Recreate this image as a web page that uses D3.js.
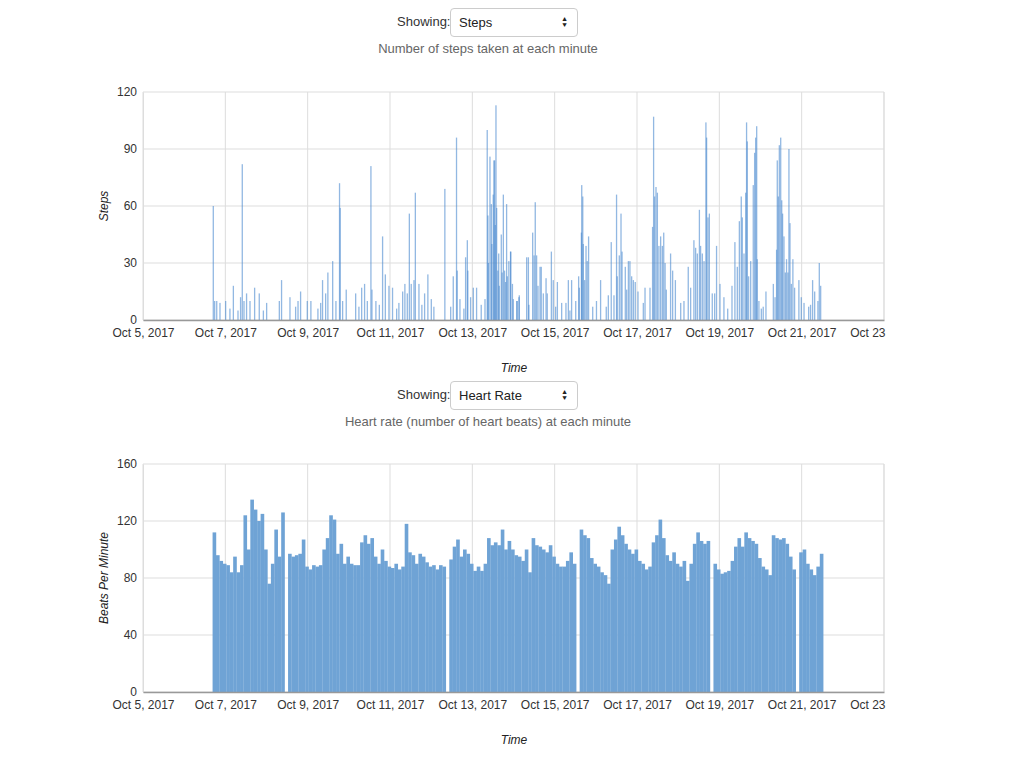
<!DOCTYPE html>
<html><head><meta charset="utf-8">
<script src="https://cdn.jsdelivr.net/npm/d3@7"></script>
<style>
body{margin:0;background:#fff;font-family:"Liberation Sans",Arial,sans-serif;}
.ctl{position:absolute;font-size:13px;color:#333;}
.sel{position:absolute;border:1px solid #ccc;border-radius:4px;font-size:13px;color:#222;box-sizing:border-box;padding:6px 8px;background:#fff}
.sub{position:absolute;font-size:13px;color:#666;text-align:center;width:400px}
svg text{font-family:"Liberation Sans",Arial,sans-serif}
</style></head><body>
<div id="ui"></div>
<svg id="chart" width="1024" height="768" style="position:absolute;left:0;top:0"></svg>
<script>
// ---- data ----
const xTickLabels = ["Oct 5, 2017","Oct 7, 2017","Oct 9, 2017","Oct 11, 2017","Oct 13, 2017","Oct 15, 2017","Oct 17, 2017","Oct 19, 2017","Oct 21, 2017","Oct 23, 2017"];
const stepsTicks = [0,30,60,90,120];
const hrTicks = [0,40,80,120,160];
// steps: hour offset from Oct 5 00:00, steps per minute
const stepHours = [40.6,41.4,42.6,44.5,47.8,50.3,52.3,55,56.5,57.5,58.5,60,62,64.7,67.4,69.8,71.7,79.1,80.4,85.3,88.6,90,91.5,95.4,97.5,101.6,103.2,104.3,106.1,107.4,110.2,112.1,114.2,114.6,116,118.1,123.6,125.5,127.1,128.8,130.4,132.5,133.1,135.4,137.4,139.3,140.9,143,145.1,147.5,148.8,151,152.3,153.7,154.9,156,157.6,158.4,160.5,162.2,163.8,165.7,167.7,169.2,175.6,179,180.5,182.4,182.8,184.4,186.7,187.7,188.7,189,190.6,192.2,194.1,196.8,199,200.3,200.7,201,201.9,202.7,203,203.8,204.2,204.6,205,205.4,205.8,206.5,207,207.3,208.5,209,209.7,210.4,211,211.6,212,212.9,213.9,214,215,215.5,217.5,217.8,218.8,219,223.3,224.3,224.6,226.8,227.6,228.3,229.1,229.9,231.1,231.8,233,234.6,235.3,237.7,238.8,240.2,241.2,243.7,246.2,247.6,248.5,249.5,251.9,253.6,254,255.2,255.4,256,256.3,257.1,257.9,258.6,259.4,261.8,264,266.4,269.7,270.9,272.6,274.2,275.7,276.1,277.3,278.3,278.9,280.8,281.6,282.6,283.5,284.5,285.5,286.6,288.2,291.3,292.3,295.2,296.7,297.3,297.9,298.7,299.5,300.4,301.4,302.4,303.2,304,304.7,307.2,308.4,310,313.1,315,317.5,318.9,320.8,321.8,322.8,324,324.7,325.7,326.7,327.8,328.2,329,329.8,331.5,332.9,334,336,338.3,340.5,343,344.7,346.1,347.3,348.4,349,350,351,351.5,351.9,352.7,353.9,355.4,356.2,356.8,357.4,357.7,358.7,360.1,361.2,362.8,367.1,368.1,369,369.4,370,370.6,371.4,372,372.5,373.3,374.1,374.8,375.6,376.2,376.8,377.6,378.5,379.5,382,383.4,385,387.7,388.8,390,391.2,393.1,393.9,394.7];
const stepValues = [60,10,10,9,10,6,18,5,12,82,10,14,10,17,14,5,9,10,21,12,7,10,15,10,10,6,9,21,14,25,31,10,72,59,10,16,14,7,17,19,10,81,16,10,8,44,24,18,17,6,9,15,19,14,56,19,21,67,19,8,14,24,11,7,69,7,23,96,26,11,6,33,42,26,12,17,17,8,11,100,55,30,86,61,40,66,84,84,50,113,59,26,35,18,45,25,66,26,20,61,23,31,36,36,19,11,10,10,12,13,33,33,8,46,34,62,34,18,28,28,14,22,14,36,21,7,20,9,9,21,5,21,10,23,17,46,71,65,40,21,39,31,44,7,10,21,7,13,41,13,66,23,34,56,36,28,16,31,31,23,21,20,15,9,17,17,49,107,65,70,67,39,44,39,46,30,16,35,26,21,9,10,28,17,42,38,35,58,39,35,31,104,96,54,56,14,14,39,19,12,6,18,41,28,52,65,54,35,67,104,94,23,31,71,88,96,102,32,10,6,7,15,19,12,37,84,65,92,96,63,56,44,25,32,25,90,51,19,32,17,21,12,9,7,8,21,15,10,30,18];
// heart rate: 2-hour bins starting Oct 6 16:34, beats per minute (null = no data)
const hrStart = "2017-10-06T16:34:00";
const hrValues = [112,96,92,90,89,84,95,84,89,124,100,135,128,120,125,100,76,90,114,95,126,null,
97,95,96,97,107,88,86,89,88,89,100,108,124,121,97,104,90,95,90,89,89,105,110,104,108,95,90,100,92,88,87,90,86,88,118,98,96,90,97,95,91,88,89,86,89,88,null,
93,102,107,95,100,97,90,85,88,85,90,108,103,105,103,114,100,106,100,96,95,92,100,84,108,103,102,100,98,103,95,90,88,88,92,98,90,null,
114,110,108,94,90,88,84,82,76,100,107,116,110,104,100,97,100,92,90,86,88,105,110,121,108,96,92,98,90,88,92,78,90,104,112,106,104,106,null,
90,86,83,84,85,92,102,108,102,112,108,106,104,94,88,86,82,110,108,107,108,104,95,86,null,98,100,90,86,82,88,97];

// ---- UI ----
const ui = d3.select("#ui");
function control(top, label, sub){
  ui.append("div").attr("class","ctl").style("left","397px").style("top",(top+6)+"px").text("Showing:");
  const s = ui.append("div").attr("class","sel").style("left","450px").style("top",top+"px").style("width","128px").style("height","29px");
  s.append("span").text(label);
  s.append("span").style("position","absolute").style("right","8px").style("top","5px").style("font-size","9px").style("line-height","8px").html("▲<br>▼").style("transform","scale(0.8,0.75)");
  ui.append("div").attr("class","sub").style("left","288px").style("top",(top+33)+"px").text(sub);
}
control(8,"Steps","Number of steps taken at each minute");
control(381,"Heart Rate","Heart rate (number of heart beats) at each minute");

// ---- charts ----
const svg = d3.select("#chart");
svg.append("defs").append("clipPath").attr("id","clipR").append("rect").attr("x",0).attr("y",0).attr("width",886).attr("height",768);
const t0 = new Date(2017,9,5), t1 = new Date(2017,9,23);
const L=143,R=884;
const x = d3.scaleTime().domain([t0,t1]).range([L,R]);
const tickDates = xTickLabels.map((d,i)=>d3.timeDay.offset(t0,2*i));
const fmt = d3.timeFormat("%b %-d, %Y");

function frame(top,bottom,yMax,yTicks,yLabel){
  const y = d3.scaleLinear().domain([0,yMax]).range([bottom,top]);
  const g = svg.append("g");
  // grid
  g.selectAll(".hg").data(yTicks).join("line").attr("x1",L).attr("x2",R).attr("y1",d=>y(d)).attr("y2",d=>y(d)).attr("stroke","#ddd");
  g.selectAll(".vg").data(tickDates).join("line").attr("x1",d=>x(d)).attr("x2",d=>x(d)).attr("y1",top).attr("y2",bottom).attr("stroke","#ddd");
  g.append("line").attr("x1",R).attr("x2",R).attr("y1",top).attr("y2",bottom).attr("stroke","#ddd");
  const ya = svg.append("g").attr("transform",`translate(${L},0)`).call(d3.axisLeft(y).tickValues(yTicks).tickSize(0).tickPadding(6));
  ya.select(".domain").attr("stroke","#ddd");
  ya.selectAll("text").attr("font-size",12).attr("fill","#333");
  svg.append("text").attr("transform",`translate(108,${(top+bottom)/2}) rotate(-90)`).attr("text-anchor","middle").attr("font-size",12).attr("font-style","italic").attr("fill","#222").text(yLabel);
  svg.append("text").attr("x",514).attr("y",bottom+52).attr("text-anchor","middle").attr("font-size",12).attr("font-style","italic").attr("fill","#222").text("Time");
  return {y,g};
}
function xAxis(bottom){
  const xa = svg.append("g").attr("clip-path","url(#clipR)").append("g").attr("transform",`translate(0,${bottom})`)
    .call(d3.axisBottom(x).tickValues(tickDates).tickFormat((d,i)=>xTickLabels[i]).tickSize(0).tickPadding(8));
  xa.select(".domain").attr("stroke","#999").attr("stroke-width",1.5);
  xa.selectAll("text").attr("font-size",12).attr("fill","#333");
}

// steps
const s = frame(92,320,120,stepsTicks,"Steps");
s.g.append("g").selectAll("rect").data(stepHours).join("rect")
  .attr("x",d=>x(d3.timeMinute.offset(t0,Math.round(d*60))))
  .attr("width",1.3)
  .attr("y",(d,i)=>s.y(stepValues[i])).attr("height",(d,i)=>320-s.y(stepValues[i]))
  .attr("fill","#4a89cf").attr("fill-opacity",0.6);
xAxis(320);

// heart rate
const h = frame(464,692,160,hrTicks,"Beats Per Minute");
const hs = new Date(hrStart);
h.g.append("g").selectAll("rect").data(hrValues.map((v,i)=>({v,i})).filter(d=>d.v!=null)).join("rect")
  .attr("x",d=>x(d3.timeMinute.offset(hs,d.i*120)))
  .attr("width",d=>x(d3.timeMinute.offset(hs,(d.i+1)*120))-x(d3.timeMinute.offset(hs,d.i*120))+0.2)
  .attr("y",d=>h.y(d.v)).attr("height",d=>692-h.y(d.v))
  .attr("fill","#6fa3d5");
xAxis(692);
</script></body></html>
